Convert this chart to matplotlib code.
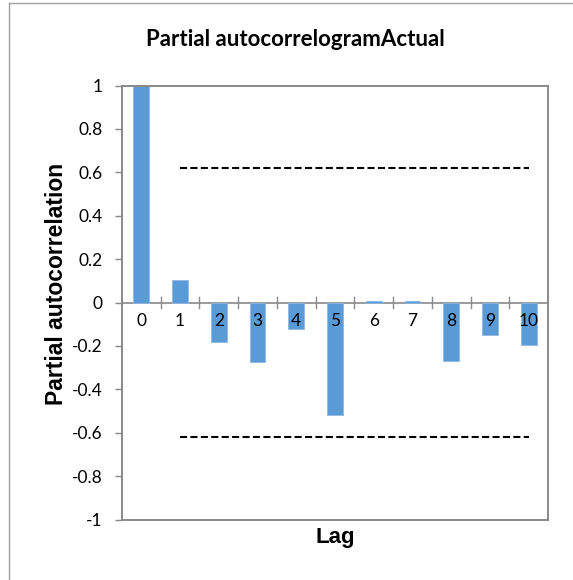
import matplotlib
matplotlib.use("Agg")
import matplotlib.pyplot as plt
from matplotlib.lines import Line2D

# Partial autocorrelation by lag
lags = [0, 1, 2, 3, 4, 5, 6, 7, 8, 9, 10]
pacf = [1.0, 0.105, -0.184, -0.275, -0.122, -0.52, 0.005, 0.008, -0.27, -0.15, -0.195]

# Confidence bounds drawn from lag 1 to lag 10
bound_lags = [1, 10]
upper_bound = [0.62, 0.62]
lower_bound = [-0.62, -0.62]

y_ticks = [1, 0.8, 0.6, 0.4, 0.2, 0, -0.2, -0.4, -0.6, -0.8, -1]
y_tick_labels = ["1", "0.8", "0.6", "0.4", "0.2", "0", "-0.2", "-0.4", "-0.6", "-0.8", "-1"]

W, H = 573, 580
fig = plt.figure(figsize=(W / 100, H / 100), dpi=100)
fig.patch.set_facecolor("white")

left, right, top, bottom = 122, 548, 85.5, 519.5
ax = fig.add_axes([left / W, 1 - bottom / H, (right - left) / W, (bottom - top) / H])

grey = "#898989"
tick_font = "Lato"

ax.bar(lags, pacf, width=0.41, color="#5B9BD5", edgecolor="#8DB9E6", linewidth=0.6, zorder=2)

for ys in (upper_bound, lower_bound):
    ax.plot(bound_lags, ys, color="black", lw=1.5, dashes=(3.4, 1.6), zorder=3)

ax.set_xlim(-0.5, 10.5)
ax.set_ylim(-1, 1)

# Plot-area frame
for s in ax.spines.values():
    s.set_color(grey)
    s.set_linewidth(1.4)

# Horizontal category axis crossing at zero
ax.axhline(0, color=grey, lw=1.2, zorder=1)
ax.set_xticks([])
for x in [v + 0.5 for v in lags[:-1]]:
    ax.plot([x, x], [-0.025, 0.025], color=grey, lw=1.0, zorder=1, clip_on=False)
for x, lab in zip(lags, lags):
    ax.text(x, -0.05, str(lab), ha="center", va="top", fontsize=12.5,
            family=tick_font, color="black", zorder=4)

ax.set_yticks(y_ticks)
ax.set_yticklabels(y_tick_labels, family=tick_font, fontsize=12.5)
ax.tick_params(axis="y", direction="out", length=5, width=1.0, color=grey, pad=9)

fig.text(57 / W, 1 - 284 / H, "Partial autocorrelation", ha="center", va="center",
         rotation=90, family="Liberation Sans", fontweight="bold", fontsize=16.5)

fig.text(335 / W, 1 - 537 / H, "Lag", ha="center", va="center",
         family="Liberation Sans", fontweight="bold", fontsize=16)

fig.text(295 / W, 1 - 40 / H, "Partial autocorrelogramActual", ha="center", va="center",
         family="Lato", fontweight="bold", fontsize=16)

# Chart border
fig.add_artist(Line2D([9 / W, 9 / W], [0, 1 - 3 / H], color="#A0A0A0", lw=1.0))
fig.add_artist(Line2D([9 / W, 1], [1 - 3 / H, 1 - 3 / H], color="#A0A0A0", lw=1.0))

fig.savefig("out.png", dpi=100)
